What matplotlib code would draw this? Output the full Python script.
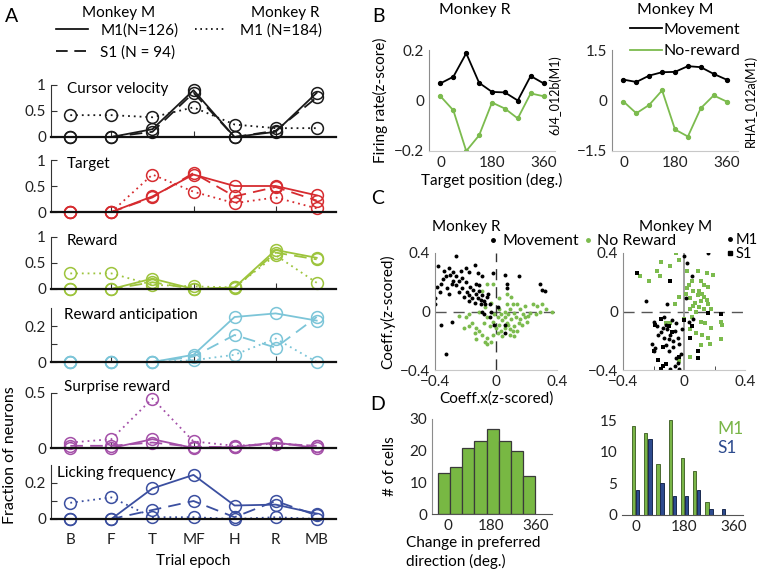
import numpy as np
import matplotlib.pyplot as plt
from matplotlib.lines import Line2D

plt.rcParams['font.family'] = ['Lato', 'DejaVu Sans']
plt.rcParams['font.size'] = 11
plt.rcParams['axes.unicode_minus'] = True

W, H = 757, 571
fig = plt.figure(figsize=(W / 100, H / 100), dpi=100)


def px_axes(l, t, r, b):
    return fig.add_axes([l / W, 1 - b / H, (r - l) / W, (b - t) / H])


# ---------------- data ----------------
epochs = ['B', 'F', 'T', 'MF', 'H', 'R', 'MB']

cursor_m1 = [0, 0, 0.15, 0.9, 0, 0.1, 0.85]
cursor_s1 = [0, 0, 0.1, 0.85, 0, 0.12, 0.76]
cursor_r = [0.42, 0.42, 0.38, 0.57, 0.24, 0.17, 0.17]

target_m1 = [0, 0, 0.3, 0.72, 0.5, 0.5, 0.32]
target_s1 = [0, 0, 0.28, 0.75, 0.3, 0.48, 0.22]
target_r = [0, 0, 0.72, 0.39, 0.17, 0.28, 0.07]

reward_m1 = [0, 0, 0.2, 0, 0.03, 0.75, 0.6]
reward_s1 = [0, 0, 0.13, 0, 0.02, 0.7, 0.57]
reward_r = [0.3, 0.3, 0.08, 0.05, 0.03, 0.65, 0.12]

anticip_m1 = [0, 0, 0, 0.04, 0.25, 0.27, 0.23]
anticip_s1 = [0, 0, 0, 0.03, 0.15, 0.08, 0.25]
anticip_r = [0, 0, 0, 0.01, 0.04, 0.13, 0.0]

surprise_m1 = [0, 0, 0.08, 0, 0.01, 0.05, 0.0]
surprise_s1 = [0.02, 0.02, 0.05, 0.01, 0.01, 0.04, 0.02]
surprise_r = [0.05, 0.08, 0.45, 0.06, 0.02, 0.04, 0.02]

lick_m1 = [0, 0, 0.17, 0.245, 0.075, 0.08, 0.03]
lick_s1 = [0, 0, 0.05, 0.1, 0.01, 0.1, 0.02]
lick_r = [0.09, 0.12, 0.01, 0.01, 0.0, 0.01, 0.0]

# panel B: tuning curves
angles = [0, 45, 90, 135, 180, 225, 270, 315, 360]
move_R = [0.068, 0.094, 0.187, 0.07, 0.034, 0.032, 0.0, 0.097, 0.068]
norew_R = [0.017, -0.039, -0.2, -0.138, -0.008, -0.032, -0.071, 0.028, 0.017]
move_M = [0.62, 0.55, 0.74, 0.84, 0.85, 1.02, 0.99, 0.79, 0.62]
norew_M = [-0.03, -0.38, -0.13, 0.3, -0.86, -1.07, -0.23, 0.15, -0.03]

# panel C: regression coefficients (x, y)
cR_move = [(-0.26, 0.38), (-0.38, 0.31), (-0.34, 0.28), (-0.31, 0.30), (-0.28, 0.27),
           (-0.30, 0.25), (-0.33, 0.24), (-0.26, 0.24), (-0.23, 0.28), (-0.20, 0.30),
           (-0.18, 0.27), (-0.14, 0.32), (-0.12, 0.26), (-0.09, 0.24), (-0.02, 0.26),
           (-0.39, 0.17), (-0.37, 0.13), (-0.32, 0.16), (-0.29, 0.19), (-0.26, 0.18),
           (-0.22, 0.16), (-0.19, 0.13), (-0.18, 0.11), (-0.16, 0.09), (-0.13, 0.12),
           (-0.12, 0.09), (-0.11, 0.14), (-0.09, 0.11), (-0.08, 0.07), (-0.07, 0.05),
           (-0.06, 0.10), (-0.10, 0.05), (-0.14, 0.06), (-0.18, 0.07), (-0.21, 0.10),
           (-0.40, 0.09), (-0.40, 0.05), (-0.36, -0.09), (-0.29, -0.07), (-0.33, -0.29),
           (-0.08, -0.02), (-0.04, -0.04), (-0.01, -0.09), (0.06, -0.09), (0.07, 0.19),
           (0.07, 0.16), (0.06, 0.25), (0.15, 0.24), (0.29, 0.19), (0.30, 0.15),
           (0.32, 0.14), (0.06, -0.15), (0.01, 0.03), (-0.13, 0.19), (-0.11, 0.18),
           (-0.17, 0.17), (-0.20, 0.20), (-0.24, 0.13), (-0.31, 0.12), (-0.36, 0.19),
           (-0.04, 0.05), (-0.03, 0.0), (-0.09, 0.0), (-0.22, 0.23), (-0.28, 0.21),
           (-0.15, 0.15), (-0.24, 0.21), (-0.35, 0.22), (-0.10, 0.08), (-0.05, 0.12)]
cR_norew = [(-0.24, -0.03), (-0.20, -0.04), (-0.16, -0.08), (-0.13, -0.11), (-0.11, -0.13),
            (-0.14, -0.15), (-0.09, -0.16), (-0.06, -0.18), (-0.07, -0.21), (-0.03, -0.21),
            (-0.02, -0.16), (0.01, -0.15), (0.03, -0.13), (0.06, -0.11), (0.09, -0.12),
            (0.11, -0.13), (0.14, -0.13), (0.12, -0.10), (0.17, -0.09), (0.20, -0.07),
            (0.21, -0.03), (0.18, -0.02), (0.16, 0.02), (0.14, 0.05), (0.19, 0.04),
            (0.24, 0.05), (0.27, 0.04), (0.30, 0.05), (0.29, 0.0), (0.37, 0.0),
            (0.33, 0.02), (0.10, 0.10), (0.07, 0.12), (0.02, 0.09), (-0.03, 0.06),
            (-0.07, 0.03), (-0.11, 0.0), (-0.18, -0.02), (-0.02, 0.19), (-0.06, 0.19),
            (-0.09, 0.14), (-0.01, -0.02), (0.01, -0.04), (0.03, -0.02), (0.06, -0.04),
            (0.08, -0.02), (0.10, -0.05), (0.07, -0.08), (0.02, -0.09), (0.0, -0.11),
            (-0.04, -0.10), (-0.08, -0.08), (-0.06, -0.04), (-0.02, -0.07), (0.09, 0.02),
            (0.12, -0.01), (0.13, -0.04), (0.06, 0.0), (0.02, 0.02), (0.11, 0.05),
            (0.07, 0.05), (-0.06, -0.22), (-0.18, -0.10), (-0.21, -0.11), (-0.13, -0.19),
            (0.16, -0.05), (0.19, -0.04), (0.22, -0.01), (0.26, -0.02), (0.09, -0.16),
            (0.04, -0.17), (0.12, -0.17), (0.04, -0.06), (0.08, -0.09), (0.15, -0.08)]

cM_m1 = [(0.0, 0.38), (0.16, 0.40), (0.02, 0.33), (0.05, 0.24), (-0.25, 0.07),
         (-0.11, 0.05), (0.01, 0.09), (-0.13, -0.04), (-0.20, -0.07), (-0.18, -0.10),
         (-0.14, -0.11), (-0.11, -0.12), (-0.09, -0.16), (-0.06, -0.13), (-0.04, -0.18),
         (-0.10, -0.19), (-0.13, -0.18), (-0.17, -0.16), (-0.21, -0.22), (-0.19, -0.25),
         (-0.12, -0.23), (-0.07, -0.24), (-0.03, -0.22), (-0.02, -0.29), (-0.05, -0.32),
         (-0.06, -0.37), (-0.03, -0.39), (-0.09, -0.39), (-0.20, -0.27), (-0.12, -0.09),
         (-0.05, -0.08), (0.03, -0.07), (0.06, -0.05), (-0.08, -0.06), (-0.15, -0.14),
         (-0.07, -0.20), (-0.01, -0.12), (-0.10, -0.27), (-0.04, -0.35)]
cM_s1 = [(-0.31, 0.26), (-0.09, 0.21), (0.16, -0.01), (0.24, -0.02), (-0.19, -0.09),
         (-0.15, -0.05), (-0.10, -0.10), (-0.14, -0.24), (-0.20, -0.27), (-0.17, -0.33),
         (-0.14, -0.37), (-0.12, -0.36), (-0.15, -0.39), (0.09, -0.27), (0.09, -0.32),
         (0.04, -0.18), (-0.03, -0.31), (0.05, -0.10), (-0.08, -0.14), (0.0, -0.06)]
cM_norew = [(-0.29, 0.24), (-0.23, 0.21), (-0.15, 0.34), (-0.16, 0.24), (-0.18, 0.28),
            (-0.05, 0.40), (-0.03, 0.35), (-0.09, 0.31), (0.02, 0.28), (0.03, 0.18),
            (0.05, 0.21), (0.09, 0.28), (0.11, 0.21), (0.15, 0.26), (0.19, 0.25),
            (0.16, 0.17), (0.06, 0.14), (0.01, 0.12), (0.04, 0.09), (0.09, 0.11),
            (0.11, 0.07), (0.13, 0.10), (0.16, 0.05), (0.06, 0.04), (0.10, 0.03),
            (0.04, 0.02), (0.13, 0.02), (0.18, 0.02), (-0.06, 0.05), (-0.03, 0.10),
            (-0.09, -0.08), (-0.12, -0.08), (0.11, -0.07), (0.14, -0.08), (0.24, -0.07),
            (0.25, -0.09), (0.04, -0.12), (0.08, -0.15), (0.12, -0.16), (0.16, -0.18),
            (0.17, -0.22), (0.24, -0.19), (0.11, -0.23), (0.04, -0.31), (-0.03, -0.34),
            (0.05, -0.04), (0.18, -0.11), (0.0, -0.05), (0.10, 0.14), (0.13, 0.18),
            (0.07, 0.06), (0.12, 0.12), (0.08, 0.0), (0.15, 0.08), (0.02, 0.16)]

# panel D: histograms of change in preferred direction
dR_edges = [-40, 10, 60, 110, 160, 210, 260, 310, 360]
dR_counts = [13, 15, 21, 23, 27, 23, 20, 12]
dM_angles = [0, 45, 90, 135, 180, 225, 270, 315, 360]
dM_m1 = [14, 13, 8, 15, 9, 7, 2, 0, 0]
dM_s1 = [4, 12, 5, 3, 3, 4, 1, 1, 0]

# ---------------- colours ----------------
DARK = '#333333'
GREY = '#8c8c8c'
C_GREEN = '#7cbb4e'
FS = 11
TFS = 11
rows = [
    ('Cursor velocity', cursor_m1, cursor_s1, cursor_r, '#1a1a1a', (0, 1), [0, 0.5, 1], ['0', '0.5', '1'], (85, 137), 0.93, 0.056),
    ('Target', target_m1, target_s1, target_r, '#d62b2f', (0, 1), [0, 0.5, 1], ['0', '0.5', '1'], (160, 212), 0.93, 0.056),
    ('Reward', reward_m1, reward_s1, reward_r, '#9dc43c', (0, 1), [0, 0.5, 1], ['0', '0.5', '1'], (237, 289), 0.93, 0.056),
    ('Reward anticipation', anticip_m1, anticip_s1, anticip_r, '#7cc5d8', (0, 0.3), [0, 0.1, 0.2], ['0', '', '0.2'], (308, 362), 0.87, 0.045),
    ('Surprise reward', surprise_m1, surprise_s1, surprise_r, '#a450a8', (0, 0.5), [0, 0.5], ['0', '0.5'], (393, 448), 1.1, 0.045),
    ('Licking frequency', lick_m1, lick_s1, lick_r, '#3b4fa0', (0, 0.3), [0, 0.1, 0.2], ['0', '', '0.2'], (465, 519), 0.85, 0.022),
]

# ---------------- panel A ----------------
xs = np.arange(len(epochs))
for i, (name, m1, s1, rr, col, ylim, yt, ytl, (top, bot), ty, tx) in enumerate(rows):
    ax = px_axes(51, top, 336, bot)
    mk = dict(marker='o', ms=8.5, mfc='none', mew=1.1, color=col, lw=1.3, clip_on=False)
    ax.plot(xs, rr, ls=(0, (1, 2.2)), **mk)
    ax.plot(xs, s1, ls=(0, (7, 4)), **mk)
    ax.plot(xs, m1, ls='-', **mk)
    ax.set_xlim(-0.47, 6.47)
    ax.set_ylim(*ylim)
    ax.set_yticks(yt)
    ax.set_yticklabels(ytl)
    for s in ['top', 'right']:
        ax.spines[s].set_visible(False)
    ax.spines['bottom'].set_linewidth(1.6)
    ax.spines['bottom'].set_color('#111111')
    ax.spines['left'].set_color(DARK)
    ax.tick_params(direction='in', length=4, colors=DARK, labelsize=TFS, labelcolor='#222222')
    ax.text(tx, ty, name, transform=ax.transAxes, fontsize=FS, va='center', ha='left')
    if i == len(rows) - 1:
        ax.set_xticks(xs)
        ax.set_xticklabels(epochs)
        ax.tick_params(axis='x', length=0, pad=10)
        ax.set_xlabel('Trial epoch', fontsize=FS, labelpad=5)
    else:
        ax.set_xticks([1, 3, 5])
        ax.set_xticklabels([])

fig.text(10 / W, 1 - 455 / H, 'Fraction of neurons', rotation=90, va='center', ha='center', fontsize=FS + 0.5)
fig.text(12 / W, 1 - 16 / H, 'A', fontsize=14, va='center', ha='center')

# legend of panel A
fig.text(119 / W, 1 - 13 / H, 'Monkey M', fontsize=FS, ha='center', va='center')
fig.text(285 / W, 1 - 13 / H, 'Monkey R', fontsize=FS, ha='center', va='center')
hA = [Line2D([], [], color='k', lw=1.2, ls='-'),
      Line2D([], [], color='k', lw=1.2, ls=(0, (7, 4))),
      Line2D([], [], color='k', lw=1.2, ls=(0, (1, 2.2))),
      Line2D([], [], color='none')]
fig.legend(hA, ['M1(N=126)', 'S1 (N = 94)', 'M1 (N=184)', ''], ncol=2, frameon=False,
           loc='upper left', bbox_to_anchor=(56 / W, 1 - 23 / H), fontsize=FS,
           handlelength=2.1, handletextpad=0.8, columnspacing=1.1, labelspacing=0.5,
           borderpad=0, borderaxespad=0)

# ---------------- panel B ----------------
fig.text(378 / W, 1 - 16 / H, 'B', fontsize=14, va='center', ha='center')


def style_b(ax):
    for s in ['top', 'right']:
        ax.spines[s].set_visible(False)
    ax.spines['left'].set_color(GREY)
    ax.spines['bottom'].set_color('#c8c8c8')
    ax.tick_params(length=0, colors=DARK, labelsize=TFS, labelcolor='#222222')
    ax.set_xticks([0, 180, 360])
    ax.set_xlim(-40, 400)


axB1 = px_axes(429, 50, 555, 151)
axB1.plot(angles, move_R, color='k', lw=1.3, marker='o', ms=2.8)
axB1.plot(angles, norew_R, color=C_GREEN, lw=1.3, marker='o', ms=2.8)
axB1.set_ylim(-0.2, 0.2)
axB1.set_yticks([-0.2, 0, 0.2])
axB1.set_yticklabels(['\u22120.2', '0', '0.2'])
style_b(axB1)
axB1.text(0.365, 1.4, 'Monkey R', transform=axB1.transAxes, fontsize=FS + 0.5, ha='center', va='center')
axB1.set_xlabel('Target position (deg.)', fontsize=FS, labelpad=2)
axB1.set_ylabel('Firing rate(z-score)', fontsize=FS, labelpad=4)
axB1.text(1.0, 0.55, '6J4_012b(M1)', transform=axB1.transAxes, rotation=90,
          fontsize=9, va='center', ha='center')

axB2 = px_axes(612, 50, 738, 151)
axB2.plot(angles, move_M, color='k', lw=1.3, marker='o', ms=2.8, label='Movement')
axB2.plot(angles, norew_M, color=C_GREEN, lw=1.3, marker='o', ms=2.8, label='No-reward')
axB2.set_ylim(-1.5, 1.5)
axB2.set_yticks([-1.5, 0, 1.5])
axB2.set_yticklabels(['\u22121.5', '0', '1.5'])
style_b(axB2)
axB2.text(0.5, 1.4, 'Monkey M', transform=axB2.transAxes, fontsize=FS + 0.5, ha='center', va='center')
axB2.text(1.1, 0.5, 'RHA1_012a(M1)', transform=axB2.transAxes, rotation=90,
          fontsize=9, va='center', ha='center')
lgB = axB2.legend(loc='upper left', bbox_to_anchor=(0.14, 1.27), frameon=False, fontsize=FS + 0.5,
                  handlelength=2.0, handletextpad=0.15, labelspacing=0.45, borderpad=0, borderaxespad=0)
for h in lgB.legend_handles:
    h.set_marker('')

# ---------------- panel C ----------------
fig.text(378 / W, 1 - 198 / H, 'C', fontsize=14, va='center', ha='center')


def style_c(ax):
    for s in ['top', 'right']:
        ax.spines[s].set_visible(False)
    ax.spines['left'].set_color(GREY)
    ax.spines['bottom'].set_color('#c8c8c8')
    ax.tick_params(length=0, colors=DARK, labelsize=TFS, labelcolor='#222222')
    ax.set_xlim(-0.4, 0.4)
    ax.set_ylim(-0.4, 0.4)
    ax.set_yticks([-0.4, 0, 0.4])
    ax.set_yticklabels(['\u22120.4', '0', '0.4'])
    ax.set_xticks([-0.4, 0, 0.4])
    ax.set_xticklabels(['\u22120.4', '0', '0.4'])


pR_move = np.array(cR_move)
pR_norew = np.array(cR_norew)
axC1 = px_axes(435, 253, 557, 370)
axC1.axhline(0, color='#555555', lw=1, ls=(0, (8, 5)), zorder=0)
axC1.axvline(0, color='#333333', lw=1, ls=(0, (8, 5)), zorder=0)
axC1.scatter(pR_norew[:, 0], pR_norew[:, 1], s=8, color=C_GREEN, lw=0)
axC1.scatter(pR_move[:, 0], pR_move[:, 1], s=8, color='k', lw=0)
style_c(axC1)
axC1.text(0.254, 1.22, 'Monkey R', transform=axC1.transAxes, fontsize=FS, ha='center', va='center')
axC1.set_xlabel('Coeff.x(z-scored)', fontsize=FS, labelpad=2)
axC1.set_ylabel('Coeff.y(z-scored)', fontsize=FS, labelpad=3)
hC = [Line2D([], [], ls='none', marker='o', ms=2.5, color='k'),
      Line2D([], [], ls='none', marker='o', ms=2.5, color=C_GREEN)]
axC1.legend(hC, ['Movement', 'No Reward'], ncol=2, loc='center left', bbox_to_anchor=(0.44, 1.1),
            frameon=False, fontsize=FS + 0.5, handlelength=0.5, handletextpad=0.35, columnspacing=0.3,
            borderpad=0, borderaxespad=0)

pM_m1 = np.array(cM_m1)
pM_s1 = np.array(cM_s1)
pM_norew = np.array(cM_norew)
axC2 = px_axes(623, 253, 745, 370)
axC2.axhline(0, color='#555555', lw=1, ls=(0, (8, 5)), zorder=0)
axC2.axvline(0, color='#999999', lw=1.3, zorder=0)
axC2.scatter(pM_norew[:, 0], pM_norew[:, 1], s=9, color=C_GREEN, marker='s', lw=0)
axC2.scatter(pM_m1[:, 0], pM_m1[:, 1], s=8, color='k', lw=0)
axC2.scatter(pM_s1[:, 0], pM_s1[:, 1], s=9, color='k', marker='s', lw=0)
style_c(axC2)
axC2.set_xticks([-0.2, 0.2], minor=True)
axC2.tick_params(axis='x', which='minor', direction='in', length=3, color=DARK)
axC2.text(0.434, 1.22, 'Monkey M', transform=axC2.transAxes, fontsize=FS, ha='center', va='center')
hC2 = [Line2D([], [], ls='none', marker='o', ms=2.5, color='k'),
       Line2D([], [], ls='none', marker='s', ms=2.5, color='k')]
axC2.legend(hC2, ['M1', 'S1'], loc='upper left', bbox_to_anchor=(0.85, 1.17), frameon=False,
            fontsize=FS - 0.5, handlelength=0.4, handletextpad=0.2, labelspacing=0.0,
            borderpad=0, borderaxespad=0)

# ---------------- panel D ----------------
fig.text(378 / W, 1 - 405 / H, 'D', fontsize=14, va='center', ha='center')

axD1 = px_axes(432, 419, 552, 514)
axD1.hist(dR_edges[:-1], bins=dR_edges, weights=dR_counts, histtype='bar',
          facecolor='#78b843', edgecolor='#3a3a3a', lw=0.9)
axD1.set_xlim(-64, 428)
axD1.set_ylim(0, 30)
axD1.set_yticks([0, 10, 20, 30])
axD1.set_xticks([0, 180, 360])
for s in ['top', 'right']:
    axD1.spines[s].set_visible(False)
axD1.spines['left'].set_color(GREY)
axD1.spines['bottom'].set_color('#555555')
axD1.tick_params(length=0, colors=DARK, labelsize=TFS, labelcolor='#222222')
axD1.set_ylabel('# of cells', fontsize=FS, labelpad=9)
axD1.text(-0.22, -0.23, 'Change in preferred\ndirection (deg.)', transform=axD1.transAxes,
          fontsize=FS, va='top', ha='left', linespacing=1.35)

axD2 = px_axes(622, 420, 743, 515)
ang = np.array(dM_angles)
axD2.bar(ang - 7.5, dM_m1, width=12, color='#79b547', edgecolor='#4a6a30', lw=0.7)
axD2.bar(ang + 7.5, dM_s1, width=12, color='#2d4b8e', edgecolor='#1a2a50', lw=0.7)
axD2.set_xlim(-50, 395)
axD2.set_ylim(0, 15)
axD2.set_yticks([0, 5, 10, 15])
axD2.set_xticks([0, 180, 360])
for s in ['top', 'right', 'left']:
    axD2.spines[s].set_visible(False)
axD2.spines['bottom'].set_color('#555555')
axD2.tick_params(length=0, colors=DARK, labelsize=TFS, labelcolor='#222222')
axD2.text(0.785, 0.9, 'M1', transform=axD2.transAxes, color='#79b547', fontsize=FS + 1.5, va='center')
axD2.text(0.785, 0.71, 'S1', transform=axD2.transAxes, color='#2d4b8e', fontsize=FS + 1.5, va='center')

fig.savefig('out.png', dpi=100)
